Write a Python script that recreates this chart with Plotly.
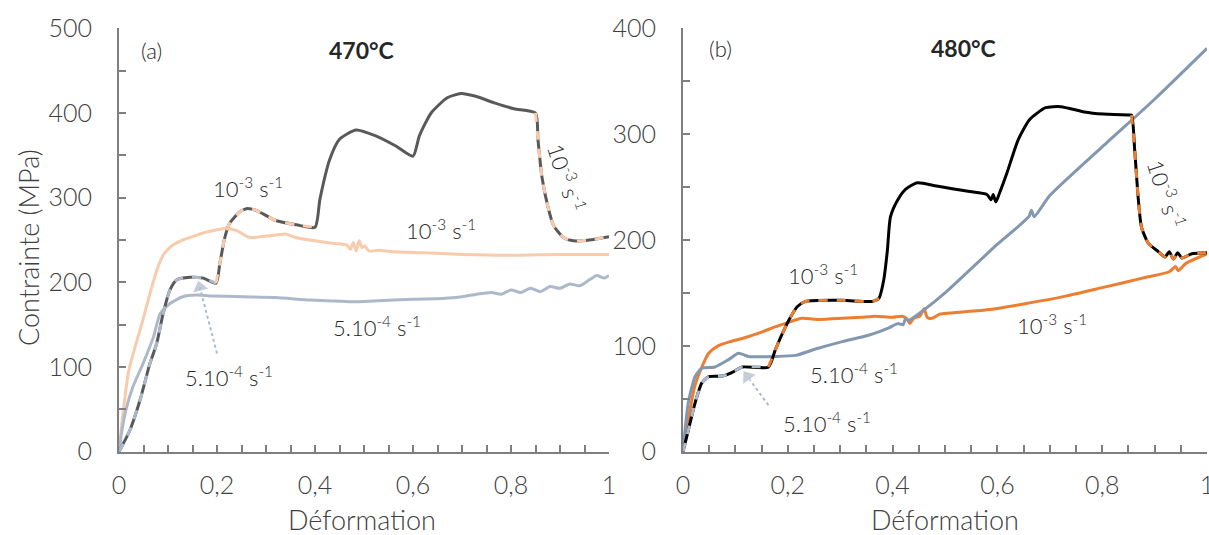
import plotly.graph_objects as go

# ---------------- (a) 470°C ----------------
a_const_1e3_x = [0, 0.008, 0.02, 0.035, 0.047, 0.06, 0.077, 0.09, 0.098, 0.11, 0.13, 0.15, 0.17, 0.2, 0.22, 0.24, 0.267, 0.29, 0.32, 0.34, 0.36, 0.4, 0.44, 0.465, 0.472, 0.478, 0.484, 0.49, 0.496, 0.502, 0.51, 0.53, 0.56, 0.62, 0.7, 0.8, 0.9, 1.0]
a_const_1e3_y = [0, 45, 96, 128, 152, 180, 214, 232, 238, 244, 250, 254, 258, 262, 264, 261, 253, 254, 256, 257, 253, 249, 246, 244, 239, 247, 237, 249, 241, 243, 237, 238, 236, 235, 233, 232, 233, 233]

a_const_5e4_x = [0, 0.006, 0.014, 0.028, 0.049, 0.07, 0.084, 0.104, 0.13, 0.158, 0.185, 0.254, 0.32, 0.39, 0.44, 0.48, 0.52, 0.6, 0.66, 0.7, 0.73, 0.76, 0.78, 0.8, 0.82, 0.84, 0.86, 0.88, 0.9, 0.92, 0.94, 0.96, 0.975, 0.99, 1.0]
a_const_5e4_y = [0, 25, 49, 76, 104, 135, 163, 175, 183, 185, 184, 183, 182, 179, 178, 177, 178, 180, 181, 183, 186, 188, 186, 191, 188, 193, 189, 195, 193, 198, 196, 203, 208, 205, 208]

a_jump_x = [0, 0.022, 0.043, 0.063, 0.077, 0.09, 0.104, 0.118, 0.145, 0.172, 0.198, 0.206, 0.216, 0.226, 0.246, 0.26, 0.28, 0.32, 0.362, 0.4, 0.41, 0.43, 0.45, 0.484, 0.524, 0.565, 0.6, 0.613, 0.637, 0.67, 0.698, 0.726, 0.766, 0.806, 0.85, 0.855, 0.863, 0.875, 0.887, 0.907, 0.927, 0.96, 1.0]
a_jump_y = [0, 25, 61, 104, 128, 163, 191, 203, 206, 205, 199, 223, 253, 270, 283, 287, 285, 273, 268, 265, 298, 345, 369, 380, 373, 361, 349, 373, 400, 418, 423, 420, 412, 405, 400, 369, 325, 290, 267, 253, 249, 250, 254]
a_seg_5e4 = (0.0, 0.2)     # strain-rate segment 5.10-4 s-1 on jump test
a_seg_1e3 = [(0.198, 0.4), (0.85, 1.0)]

a_arrow_x = [0.2, 0.165]
a_arrow_y = [116, 194]

# ---------------- (b) 480°C ----------------
b_const_1e3_x = [0, 0.01, 0.022, 0.036, 0.049, 0.067, 0.09, 0.113, 0.15, 0.176, 0.2, 0.227, 0.26, 0.304, 0.34, 0.367, 0.4, 0.419, 0.428, 0.433, 0.44, 0.452, 0.46, 0.466, 0.475, 0.49, 0.51, 0.58, 0.655, 0.73, 0.8, 0.877, 0.928, 0.94, 0.945, 0.96, 1.0]
b_const_1e3_y = [0, 30, 61, 80, 93, 100, 104, 107, 113, 118, 122, 126, 125, 126, 127, 128, 127, 128, 125, 121, 126, 128, 135, 127, 126, 130, 131, 134, 140, 147, 155, 164, 170, 175, 171, 178, 187]

b_const_5e4_x = [0, 0.01, 0.023, 0.036, 0.061, 0.087, 0.106, 0.125, 0.176, 0.215, 0.253, 0.304, 0.354, 0.393, 0.41, 0.42, 0.425, 0.43, 0.46, 0.5, 0.6, 0.66, 0.665, 0.67, 0.7, 0.8, 0.9, 1.0]
b_const_5e4_y = [0, 46, 71, 79, 80, 87, 93, 90, 90, 91, 97, 104, 110, 117, 121, 120, 126, 124, 134, 150, 196, 222, 228, 222, 242, 288, 333, 381]

b_jump_x = [0, 0.01, 0.023, 0.036, 0.049, 0.075, 0.094, 0.113, 0.163, 0.176, 0.19, 0.205, 0.218, 0.234, 0.304, 0.362, 0.374, 0.383, 0.39, 0.396, 0.41, 0.425, 0.447, 0.484, 0.544, 0.58, 0.588, 0.592, 0.597, 0.603, 0.618, 0.64, 0.662, 0.692, 0.721, 0.766, 0.802, 0.85, 0.856, 0.862, 0.869, 0.875, 0.888, 0.907, 0.92, 0.928, 0.936, 0.944, 0.952, 0.971, 1.0]
b_jump_y = [0, 20, 46, 65, 71, 71.5, 75, 80, 80, 96, 112, 127, 137, 142, 143, 142, 145, 162, 190, 222, 238, 248, 254, 251, 246, 243, 238, 243, 236, 243, 263, 295, 314, 325, 326, 321, 319, 318, 318, 285, 238, 212, 197, 189, 184, 189, 182, 188, 183, 187, 188]
b_seg_5e4 = (0.0, 0.163)
b_seg_1e3 = [(0.163, 0.376), (0.856, 1.0)]

b_arrow_x = [0.163, 0.123]
b_arrow_y = [44, 71]

x_tick_vals = [0, 0.2, 0.4, 0.6, 0.8, 1]
a_y_ticks = [0, 100, 200, 300, 400, 500]
b_y_ticks = [0, 100, 200, 300, 400]

# colours
A_DARK = "#595959"; A_PEACH = "#F8CBAD"; A_BLUE = "#ADB9CA"
B_DARK = "#000000"; B_ORANGE = "#ED7D31"; B_BLUE = "#8497B0"

FONT = "Lato"
TXT = "#404040"
AX = "#7F7F7F"

def segment(xs, ys, lo, hi):
    sx, sy = [], []
    for x, y in zip(xs, ys):
        if lo - 1e-9 <= x <= hi + 1e-9:
            sx.append(x); sy.append(y)
    return sx, sy

fig = go.Figure()
SM = dict(shape="spline", smoothing=0.6)

def add_panel(xa, ya, c1e3, c5e4, jump, seg5, seg13, arrow, col_dark, col_13, col_54, col_54_dash):
    fig.add_trace(go.Scatter(x=c1e3[0], y=c1e3[1], mode="lines", xaxis=xa, yaxis=ya,
                             line=dict(color=col_13, width=3, **SM), showlegend=False))
    fig.add_trace(go.Scatter(x=c5e4[0], y=c5e4[1], mode="lines", xaxis=xa, yaxis=ya,
                             line=dict(color=col_54, width=3, **SM), showlegend=False))
    fig.add_trace(go.Scatter(x=jump[0], y=jump[1], mode="lines", xaxis=xa, yaxis=ya,
                             line=dict(color=col_dark, width=3, **SM), showlegend=False))
    sx, sy = segment(jump[0], jump[1], *seg5)
    fig.add_trace(go.Scatter(x=sx, y=sy, mode="lines", xaxis=xa, yaxis=ya,
                             line=dict(color=col_54_dash, width=3, dash="9px,9px", **SM), showlegend=False))
    for lo, hi in seg13:
        sx, sy = segment(jump[0], jump[1], lo, hi)
        fig.add_trace(go.Scatter(x=sx, y=sy, mode="lines", xaxis=xa, yaxis=ya,
                                 line=dict(color=col_13, width=3, dash="9px,9px", **SM), showlegend=False))
    fig.add_trace(go.Scatter(x=arrow[0], y=arrow[1], mode="lines+markers", xaxis=xa, yaxis=ya,
                             line=dict(color=col_54_dash, width=2, dash="dot"),
                             marker=dict(symbol="triangle-up", size=[0, 15], color=col_54_dash,
                                         angleref="previous"),
                             showlegend=False))

add_panel("x", "y", (a_const_1e3_x, a_const_1e3_y), (a_const_5e4_x, a_const_5e4_y),
          (a_jump_x, a_jump_y), a_seg_5e4, a_seg_1e3, (a_arrow_x, a_arrow_y),
          A_DARK, A_PEACH, A_BLUE, A_BLUE)
add_panel("x2", "y2", (b_const_1e3_x, b_const_1e3_y), (b_const_5e4_x, b_const_5e4_y),
          (b_jump_x, b_jump_y), b_seg_5e4, b_seg_1e3, (b_arrow_x, b_arrow_y),
          B_DARK, B_ORANGE, B_BLUE, A_BLUE)

W, H = 1209, 535
ytop, ybot = 28.3, 451.7
minor_x = dict(dtick=0.05, ticks="inside", ticklen=7, tickwidth=2, tickcolor=AX)
minor_y = dict(dtick=50, ticks="inside", ticklen=7, tickwidth=2, tickcolor=AX)
axis_common = dict(showline=True, linecolor=AX, linewidth=2, ticks="inside", ticklen=7,
                   tickwidth=2, tickcolor=AX, showgrid=False, zeroline=False, automargin=False,
                   ticklabeloverflow="allow",
                   tickfont=dict(family=FONT, size=25, color=TXT, weight=300))

fig.update_layout(
    template="none",
    width=W, height=H, margin=dict(l=0, r=0, t=0, b=0, pad=0, autoexpand=False),
    paper_bgcolor="white", plot_bgcolor="white", separators=", ",
    font=dict(family=FONT, color=TXT),
    xaxis=dict(domain=[119 / W, 609 / W], range=[0, 1], tickvals=x_tick_vals, minor=minor_x,
               anchor="y", ticklabelstandoff=10, **axis_common),
    yaxis=dict(domain=[1 - ybot / H, 1 - ytop / H], range=[0, 500], tickvals=a_y_ticks, minor=minor_y,
               anchor="x", ticklabelstandoff=20, **axis_common),
    xaxis2=dict(domain=[683 / W, 1207 / W], range=[0, 1], tickvals=x_tick_vals, minor=minor_x,
                anchor="y2", ticklabelstandoff=10, **axis_common),
    yaxis2=dict(domain=[1 - ybot / H, 1 - ytop / H], range=[0, 400], tickvals=b_y_ticks, minor=minor_y,
                anchor="x2", ticklabelstandoff=20, **axis_common),
)

ANN_COLOR = "#262626"
rate_1e3 = "10<sup>-3</sup> s<sup>-1</sup>"
rate_5e4 = "5.10<sup>-4</sup> s<sup>-1</sup>"

annotations = [
    # panel a
    ("x", "y", 0.067, 474, "(a)", 22, 0),
    ("x", "y", 0.495, 474, "<b>470°C</b>", 23, 0),
    ("x", "y", 0.263, 312, rate_1e3, 22, 0),
    ("x", "y", 0.658, 262, rate_1e3, 22, 0),
    ("x", "y", 0.914, 324, rate_1e3, 22, 72),
    ("x", "y", 0.527, 148, rate_5e4, 22, 0),
    ("x", "y", 0.225, 89, rate_5e4, 22, 0),
    # panel b
    ("x2", "y2", 0.071, 381, "(b)", 22, 0),
    ("x2", "y2", 0.536, 381, "<b>480°C</b>", 23, 0),
    ("x2", "y2", 0.268, 167, rate_1e3, 22, 0),
    ("x2", "y2", 0.704, 120, rate_1e3, 22, 0),
    ("x2", "y2", 0.923, 244, rate_1e3, 22, 72),
    ("x2", "y2", 0.327, 74, rate_5e4, 22, 0),
    ("x2", "y2", 0.274, 28, rate_5e4, 22, 0),
]
for xr, yr, x, y, t, s, ang in annotations:
    fig.add_annotation(xref=xr, yref=yr, x=x, y=y, text=t, showarrow=False, textangle=ang,
                       xanchor="center", yanchor="middle",
                       font=dict(family=FONT, size=s, color=ANN_COLOR, weight=300))

# axis titles
title_font = dict(family=FONT, size=27, color=TXT, weight=300)
fig.add_annotation(xref="paper", yref="paper", x=28 / W, y=1 - 248 / H, text="Contrainte (MPa)",
                   textangle=-90, showarrow=False, xanchor="center", yanchor="middle", font=title_font)
fig.add_annotation(xref="paper", yref="paper", x=362 / W, y=1 - 519 / H, text="Déformation",
                   showarrow=False, xanchor="center", yanchor="middle", font=title_font)
fig.add_annotation(xref="paper", yref="paper", x=945 / W, y=1 - 519 / H, text="Déformation",
                   showarrow=False, xanchor="center", yanchor="middle", font=title_font)

fig.write_html("out.html", config={"displayModeBar": False},
               post_script="document.body.style.margin='0';document.body.style.overflow='hidden';")
